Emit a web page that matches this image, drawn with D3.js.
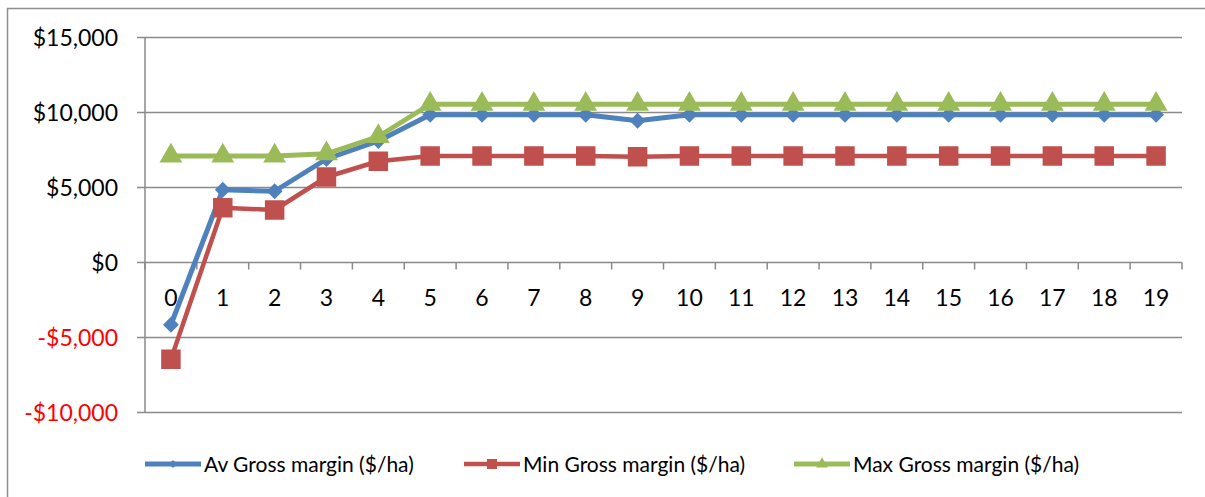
<!DOCTYPE html>
<html><head><meta charset="utf-8">
<script src="https://cdn.jsdelivr.net/npm/d3@7"></script>
<style>
body{margin:0;background:#fff;}
svg{display:block;font-family:Lato,"Open Sans",sans-serif;}
</style></head>
<body><svg id="c" width="1205" height="497"></svg>
<script>
const categories = ["0","1","2","3","4","5","6","7","8","9","10","11","12","13","14","15","16","17","18","19"];
const avGross  = [-4150, 4850, 4750, 6900, 8100, 9850, 9850, 9850, 9850, 9450, 9850, 9850, 9850, 9850, 9850, 9850, 9850, 9850, 9850, 9850];
const minGross = [-6450, 3650, 3500, 5700, 6750, 7100, 7100, 7100, 7100, 7050, 7100, 7100, 7100, 7100, 7100, 7100, 7100, 7100, 7100, 7100];
const maxGross = [7100, 7100, 7100, 7250, 8400, 10550, 10550, 10550, 10550, 10550, 10550, 10550, 10550, 10550, 10550, 10550, 10550, 10550, 10550, 10550];
const yTicks = [-10000, -5000, 0, 5000, 10000, 15000];
const seriesNames = ["Av Gross margin ($/ha)", "Min Gross margin ($/ha)", "Max Gross margin ($/ha)"];

const svg = d3.select("#c");
const L = 145, R = 1182, T = 37.5, B = 412.5;
const x = d3.scaleBand().domain(categories).range([L, R]);
const y = d3.scaleLinear().domain([-10000, 15000]).range([B, T]);
const grid = "#8a8a8a";

// outer border (top & left)
svg.append("path").attr("d", "M7.5,497 V8.5 H1205").attr("fill","none").attr("stroke","#8f8f8f").attr("stroke-width",1.5);

// gridlines
svg.append("g").selectAll("line").data(yTicks).join("line")
  .attr("x1", L - 8).attr("x2", R).attr("y1", d=>y(d)).attr("y2", d=>y(d))
  .attr("stroke", grid).attr("stroke-width", 1.5);
// y axis line
svg.append("line").attr("x1", L).attr("x2", L).attr("y1", T).attr("y2", B).attr("stroke", grid).attr("stroke-width", 1.5);
// y labels
const fmt = d => (d < 0 ? "-$" : "$") + d3.format(",")(Math.abs(d));
svg.append("g").selectAll("text").data(yTicks).join("text")
  .attr("x", 118).attr("y", d=>y(d)).attr("dy","0.36em").attr("text-anchor","end")
  .attr("font-size", 23).attr("fill", d=> d<0 ? "#ff0000" : "#000").text(fmt);

// x axis ticks at zero line
const bounds = d3.range(categories.length + 1).map(i => L + i * x.bandwidth());
svg.append("g").selectAll("line").data(bounds).join("line")
  .attr("x1", d=>d).attr("x2", d=>d).attr("y1", y(0)).attr("y2", y(0) + 7)
  .attr("stroke", grid).attr("stroke-width", 1.5);
svg.append("g").selectAll("text").data(categories).join("text")
  .attr("x", d=>x(d) + x.bandwidth()/2).attr("y", 298).attr("dy","0.36em").attr("text-anchor","middle")
  .attr("font-size", 23).attr("fill","#000").text(d=>d);

const cx = (d,i) => x(categories[i]) + x.bandwidth()/2;
const line = d3.line().x(cx).y(d=>y(d));

const series = [
  {name: seriesNames[0], data: avGross, color: "#4F81BD", w: 5, marker: "diamond"},
  {name: seriesNames[1], data: minGross, color: "#C0504D", w: 4.5, marker: "square"},
  {name: seriesNames[2], data: maxGross, color: "#9BBB59", w: 5, marker: "triangle"}
];
const symbols = {
  diamond: d3.symbol().type(d3.symbolDiamond2).size(160),
  square: d3.symbol().type(d3.symbolSquare).size(380),
  triangle: d3.symbol().type(d3.symbolTriangle).size(225)
};
const legendSym = {
  diamond: d3.symbol().type(d3.symbolDiamond2).size(40),
  square: d3.symbol().type(d3.symbolSquare).size(100),
  triangle: d3.symbol().type(d3.symbolTriangle).size(60)
};

series.forEach(s => {
  const g = svg.append("g");
  g.append("path").datum(s.data).attr("d", line).attr("fill","none")
    .attr("stroke", s.color).attr("stroke-width", s.w).attr("stroke-linejoin","round");
  g.selectAll("path.m").data(s.data).join("path").attr("class","m")
    .attr("transform", (d,i)=>`translate(${cx(d,i)},${y(d)})`)
    .attr("d", symbols[s.marker]).attr("fill", s.color);
});

// legend
const legendX = [145, 464, 794];
const lg = svg.append("g");
series.forEach((s,i) => {
  const gx = legendX[i], gy = 464;
  lg.append("line").attr("x1", gx).attr("x2", gx + 56).attr("y1", gy).attr("y2", gy)
    .attr("stroke", s.color).attr("stroke-width", s.w);
  lg.append("path").attr("transform", `translate(${gx+28},${gy})`).attr("d", legendSym[s.marker]).attr("fill", s.color);
  lg.append("text").attr("x", gx + 59).attr("y", gy).attr("dy","0.36em").attr("font-size", 21).attr("fill","#000").text(s.name);
});
</script></body></html>
